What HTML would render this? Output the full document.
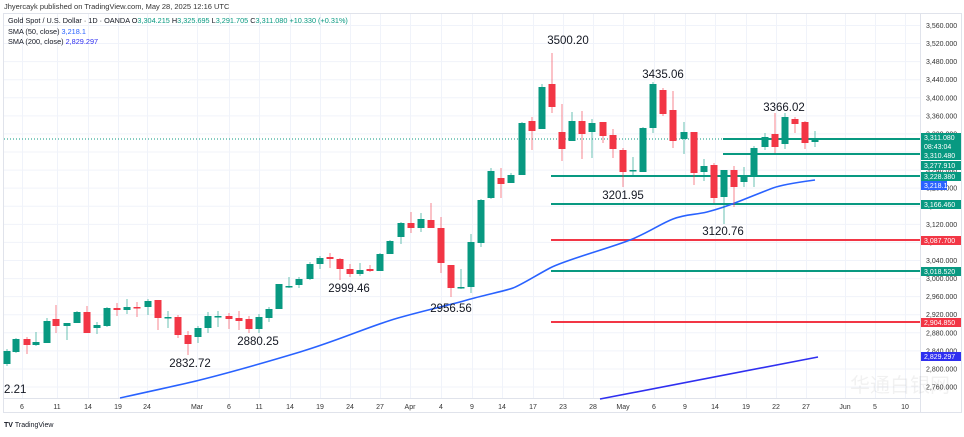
<!DOCTYPE html>
<html><head><meta charset="utf-8"><style>
body{margin:0;background:#fff;width:964px;height:432px;overflow:hidden;font-family:"Liberation Sans",sans-serif}
svg text{font-family:"Liberation Sans",sans-serif}
</style></head><body>
<svg id="s" width="964" height="432" viewBox="0 0 964 432" xmlns="http://www.w3.org/2000/svg">
<rect x="0" y="0" width="964" height="432" fill="#fff"/>
<text x="4" y="9" font-size="7.5" fill="#333">Jhyercayk published on TradingView.com, May 28, 2025 12:16 UTC</text>
<rect x="3.5" y="13.5" width="958" height="399" fill="none" stroke="#e0e3eb"/>
<line x1="920.5" y1="14" x2="920.5" y2="412" stroke="#e0e3eb"/>
<g id="grid" stroke="#f0f3fa" stroke-width="1"></g>
<g id="axis" font-size="7" fill="#333"></g>
<line x1="4" y1="139" x2="920" y2="139" stroke="#089981" stroke-dasharray="1,2" stroke-width="1"/>
<g stroke-width="2">
<line x1="723" y1="139" x2="920" y2="139" stroke="#089981"/>
<line x1="723" y1="154" x2="920" y2="154" stroke="#089981"/>
<line x1="551" y1="176" x2="920" y2="176" stroke="#089981"/>
<line x1="551" y1="204" x2="920" y2="204" stroke="#089981"/>
<line x1="551" y1="240" x2="920" y2="240" stroke="#f23645"/>
<line x1="551" y1="271" x2="920" y2="271" stroke="#089981"/>
<line x1="551" y1="322" x2="920" y2="322" stroke="#f23645"/>
</g>
<path fill="none" stroke="#2962ff" stroke-width="1.6" d="M120,398 C160,389 180,385 200,380 S260,364 300,352 S370,326 398,318 S450,305 467,300 S505,291 513,288 S535,276 550,268 S610,248 630,240 S660,224 673,219 S695,215 707,212 S730,205 740,201 S765,191 773,188 S800,182 815,180"/>
<polyline fill="none" stroke="#2f2ff0" stroke-width="1.6" points="600,399 818,357"/>
<g id="candles"></g>
<g font-size="11.5" fill="#131722" text-anchor="middle">
<text x="4" y="393" text-anchor="start">2.21</text>
<text x="190" y="367">2832.72</text>
<text x="258" y="345">2880.25</text>
<text x="349" y="292">2999.46</text>
<text x="451" y="312">2956.56</text>
<text x="568" y="44">3500.20</text>
<text x="663" y="78">3435.06</text>
<text x="623" y="199">3201.95</text>
<text x="723" y="235">3120.76</text>
<text x="784" y="111">3366.02</text>
</g>
<g font-size="7" fill="#fff">
<rect x="921" y="133" width="40" height="19" fill="#089981"/>
<text x="924" y="140">3,311.080</text><text x="924" y="149">08:43:04</text>
<rect x="921" y="151" width="40" height="9" fill="#089981"/><text x="924" y="158">3,310.480</text>
<rect x="921" y="161" width="40" height="9" fill="#089981"/><text x="924" y="168">3,277.910</text>
<rect x="921" y="172" width="40" height="9" fill="#089981"/><text x="924" y="179">3,228.380</text>
<rect x="921" y="181" width="26" height="9" fill="#2962ff"/><text x="924" y="188">3,218.1</text>
<rect x="921" y="200" width="40" height="9" fill="#089981"/><text x="924" y="207">3,166.460</text>
<rect x="921" y="236" width="40" height="9" fill="#f23645"/><text x="924" y="243">3,087.700</text>
<rect x="921" y="267" width="40" height="9" fill="#089981"/><text x="924" y="274">3,018.520</text>
<rect x="921" y="318" width="40" height="9" fill="#f23645"/><text x="924" y="325">2,904.850</text>
<rect x="921" y="352" width="40" height="9" fill="#2f2ff0"/><text x="924" y="359">2,829.297</text>
</g>
<g font-size="7.3">
<text x="8" y="23" fill="#131722">Gold Spot / U.S. Dollar · 1D · OANDA <tspan fill="#131722">O</tspan><tspan fill="#089981">3,304.215</tspan> H<tspan fill="#089981">3,325.695</tspan> L<tspan fill="#089981">3,291.705</tspan> C<tspan fill="#089981">3,311.080 +10.330 (+0.31%)</tspan></text>
<text x="8" y="34" fill="#131722">SMA (50, close) <tspan fill="#2962ff">3,218.1</tspan></text>
<text x="8" y="44" fill="#131722">SMA (200, close) <tspan fill="#2f2ff0">2,829.297</tspan></text>
</g>
<text x="4" y="427" font-size="7" font-weight="bold" fill="#131722">TV <tspan font-weight="normal">TradingView</tspan></text>
<text x="850" y="392" font-size="20" fill="#000" opacity="0.05">华通白银网</text>
</svg>
<script>
var NS="http://www.w3.org/2000/svg";
function el(p,t,a){var e=document.createElementNS(NS,t);for(var k in a)e.setAttribute(k,a[k]);document.getElementById(p).appendChild(e);return e;}
var xs=[[22,"6"],[57,"11"],[88,"14"],[118,"19"],[147,"24"],[197,"Mar"],[229,"6"],[259,"11"],[290,"14"],[320,"19"],[350,"24"],[380,"27"],[410,"Apr"],[441,"4"],[472,"9"],[502,"14"],[533,"17"],[563,"23"],[593,"28"],[623,"May"],[654,"6"],[685,"9"],[715,"14"],[746,"19"],[776,"22"],[806,"27"],[845,"Jun"],[875,"5"],[905,"10"]];
xs.forEach(function(d){el("grid","line",{x1:d[0]+.5,y1:14,x2:d[0]+.5,y2:398});var t=el("axis","text",{x:d[0],y:409,"text-anchor":"middle"});t.textContent=d[1];});
for(var p=3560;p>=2760;p-=40){var y=138+(3311-p)*0.452;el("grid","line",{x1:4,y1:y,x2:920,y2:y});var t=el("axis","text",{x:926,y:y+2.5});t.textContent=p.toLocaleString("en-US")+".000";}
el("grid","line",{x1:4,y1:398.5,x2:920,y2:398.5,stroke:"#e0e3eb"});
var C=[[7,351,364,349,366,1],[16,339,352,338,353,1],[27,339,345,337,354,0],[36,342,345,332,346,1],[47,321,343,318,343,1],[56,319,326,305,333,0],[67,323,326,323,340,1],[77,312,323,311,323,1],[87,312,333,306,333,0],[97,325,328,322,334,1],[107,308,326,307,327,1],[117,308,310,303,316,0],[127,307,310,299,314,1],[137,307,308,302,317,0],[148,301,307,299,315,1],[158,300,318,300,330,0],[168,317,318,311,328,1],[178,317,335,315,338,0],[188,335,344,331,355,0],[198,328,337,326,343,1],[208,316,328,312,333,1],[218,316,317,311,327,1],[229,316,319,313,329,0],[239,318,321,311,330,0],[249,319,329,316,333,0],[259,317,329,314,333,1],[269,309,318,307,322,1],[279,284,309,284,309,1],[289,286,287,277,288,1],[299,279,285,277,288,1],[310,264,279,262,280,1],[320,258,264,256,269,1],[330,257,259,253,268,0],[340,259,269,258,280,0],[350,269,274,264,277,0],[360,270,274,263,276,1],[370,269,271,265,272,0],[380,254,271,253,271,1],[390,241,254,240,254,1],[401,223,237,222,244,1],[411,223,228,212,233,0],[421,219,228,213,232,1],[431,220,228,203,228,0],[441,228,263,217,273,0],[451,265,288,265,297,0],[461,287,288,269,289,1],[471,242,287,234,293,1],[481,200,243,199,247,1],[491,171,198,168,199,1],[501,178,184,168,198,0],[511,175,183,173,183,1],[522,123,175,122,175,1],[532,121,131,117,150,0],[542,87,129,84,129,1],[552,84,107,53,113,0],[562,132,149,104,161,0],[572,121,141,112,141,1],[582,121,134,111,159,0],[592,123,132,119,158,1],[603,122,136,122,143,0],[613,135,149,129,158,0],[623,150,172,148,187,0],[633,170,171,157,177,1],[643,128,172,127,172,1],[653,84,128,82,133,1],[663,90,114,88,116,0],[673,110,141,91,148,0],[684,132,139,122,154,1],[694,132,173,132,185,0],[704,166,172,159,181,1],[714,165,198,163,203,0],[724,170,197,170,224,1],[734,170,187,166,207,0],[744,175,182,167,187,1],[754,148,175,146,187,1],[765,137,147,133,150,1],[775,134,147,113,153,0],[785,117,144,113,149,1],[795,119,124,117,133,0],[805,122,143,121,149,0],[815,139,142,131,147,1]];
C.forEach(function(c){var col=c[5]?"#089981":"#f23645";el("candles","line",{x1:c[0],y1:c[3],x2:c[0],y2:c[4],stroke:col,"stroke-width":1,opacity:0.6});var h=Math.max(1.5,c[2]-c[1]);el("candles","rect",{x:c[0]-3.5,y:c[1],width:7,height:h,fill:col});});
</script>
</body></html>
